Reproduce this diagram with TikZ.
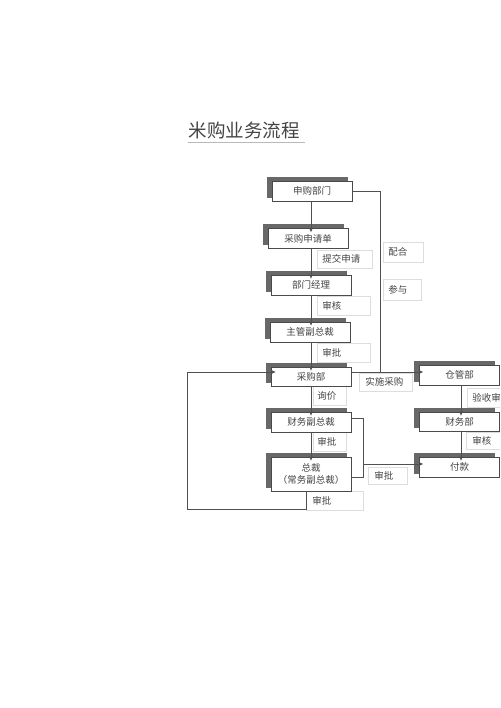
\documentclass[tikz,border=0pt]{standalone}
\usepackage{fontspec}
\newfontfamily\cjk{Noto Sans CJK SC}
\usetikzlibrary{arrows.meta,shadows}
\definecolor{boxline}{HTML}{4A4A4A}
\definecolor{shadowc}{HTML}{686868}
\definecolor{labline}{HTML}{DDDDDD}
\definecolor{txt}{HTML}{444444}
\definecolor{conn}{HTML}{505050}
\tikzset{
  box/.style={draw=boxline, fill=white, line width=0.8pt, minimum width=80pt,
    minimum height=20pt, inner sep=0pt, align=center, text=txt,
    font=\cjk\fontsize{9.5}{12}\selectfont,
    general shadow={shadow xshift=-5pt, shadow yshift=4pt, fill=shadowc, draw=shadowc}},
  lab/.style={draw=labline, line width=0.6pt, anchor=north west, inner xsep=5pt,
    inner ysep=0pt, align=left, text=txt, font=\cjk\fontsize{9.5}{11}\selectfont},
  line/.style={draw=conn, line width=0.8pt},
  arr/.style={line, -{Stealth[length=4.5pt,width=4pt]}},
}
\begin{document}
\begin{tikzpicture}[x=1pt,y=-1pt]
\useasboundingbox (0,0) rectangle (500,708);
\clip (0,0) rectangle (500,708);
% title
\node[text=txt, font=\cjk\fontsize{18.5}{20}\selectfont, inner sep=0pt] (title) at (244,130) {米购业务流程};
\draw[gray!55, line width=0.6pt] (188,142) -- (305,142);
% labels
\node[lab, text width=45pt, minimum height=18pt] (l1) at (317,250) {提交申请};
\node[lab, text width=43pt, minimum height=19pt] (l2) at (317,296) {审核};
\node[lab, text width=43pt, minimum height=19pt] (l3) at (317,343) {审批};
\node[lab, text width=25pt, minimum height=19pt, inner xsep=4pt] (l4) at (313,386) {询价};
\node[lab, text width=25pt, minimum height=19pt, inner xsep=4pt] (l5) at (313,432) {审批};
\node[lab, text width=45pt, minimum height=19pt, inner xsep=6pt] (l6) at (306,491) {审批};
\node[lab, text width=41pt, minimum height=18pt, inner xsep=6pt] (l7) at (359,373) {实施采购};
\node[lab, text width=27pt, minimum height=17pt, inner xsep=6pt] (l8) at (368,467) {审批};
\node[lab, text width=30pt, minimum height=19pt] (l9) at (467,388) {验收审};
\node[lab, text width=28pt, minimum height=17pt, inner xsep=6pt] (l10) at (466,432) {审核};
\node[lab, text width=30pt, minimum height=20pt] (l11) at (383,242) {配合};
\node[lab, text width=28pt, minimum height=21pt] (l12) at (383,279) {参与};
% boxes
\node[box] (b1) at (312,191) {申购部门};
\node[box] (b2) at (308,238.5) {采购申请单};
\node[box] (b3) at (311,285) {部门经理};
\node[box] (b4) at (310,332) {主管副总裁};
\node[box, minimum height=19pt] (b5) at (311,376.5) {采购部};
\node[box] (b6) at (311,422) {财务副总裁};
\node[box, minimum height=34pt] (b7) at (311,474) {总裁\\（常务副总裁）};
\node[box] (r1) at (459.5,375) {仓管部};
\node[box, minimum height=19pt] (r2) at (459.5,421.5) {财务部};
\node[box] (r3) at (459.5,467) {付款};
% coordinates
\coordinate (ax) at (311,0);
\coordinate (rx) at (461,0);
\coordinate (jn) at (380,372);
\coordinate (k1) at (363,418);
\coordinate (k2) at (363,477);
\coordinate (k) at (363,464);
\coordinate (f1) at (306,509);
\coordinate (f2) at (187,509);
\coordinate (f3) at (187,372);
% connectors
\draw[arr, shorten >=-4pt] (b1.south -| ax) -- (b2.north -| ax);
\draw[arr, shorten >=-4pt] (b2.south -| ax) -- (b3.north -| ax);
\draw[arr, shorten >=-4pt] (b3.south -| ax) -- (b4.north -| ax);
\draw[arr, shorten >=-4pt] (b4.south -| ax) -- (b5.north -| ax);
\draw[arr, shorten >=-4pt] (b5.south -| ax) -- (b6.north -| ax);
\draw[arr, shorten >=-4pt] (b6.south -| ax) -- (b7.north -| ax);
\draw[line] (b1.east) -| (jn);
\draw[arr, shorten >=-4pt] (b5.east |- jn) -- (r1.west |- jn);
\draw[arr, shorten >=-4pt] (r1.south -| rx) -- (r2.north -| rx);
\draw[arr, shorten >=-4pt] (r2.south -| rx) -- (r3.north -| rx);
\draw[line] (b6.east |- k1) -- (k1) -- (k2) -- (b7.east |- k2);
\draw[arr, shorten >=-4pt] (k) -- (r3.west |- k);
\draw[arr, shorten >=-5pt] (b7.south -| f1) -- (f1) -- (f2) -- (f3) -- (b5.west |- f3);
\end{tikzpicture}
\end{document}
